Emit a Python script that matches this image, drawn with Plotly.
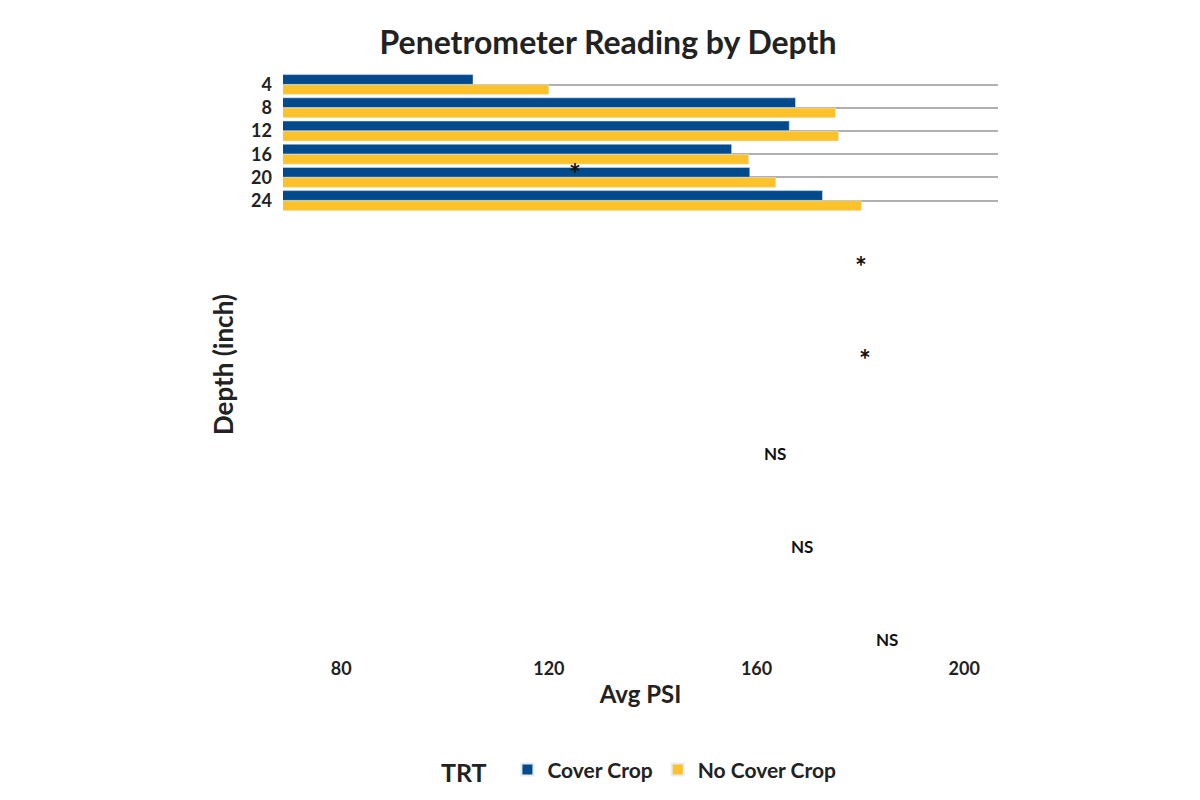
import plotly.graph_objects as go

depths = ['4', '8', '12', '16', '20', '24']
cover_crop = [105.4, 167.5, 166.3, 155.2, 158.7, 172.7]
no_cover_crop = [120.0, 175.2, 175.8, 158.5, 163.7, 180.2]
signif = ['*', '*', '*', 'NS', 'NS', 'NS']

blue = '#034A8C'
yellow = '#FDC12A'
font = 'Lato'

fig = go.Figure()
fig.add_bar(y=depths, x=cover_crop, orientation='h', name='<b>Cover Crop</b>',
            marker_color=blue, base=0)
fig.add_bar(y=depths, x=no_cover_crop, orientation='h', name='<b>No Cover Crop</b>',
            marker_color=yellow, base=0)

for d, v, s in zip(depths, no_cover_crop, signif):
    if s == '*':
        fig.add_annotation(x=v + 5, y=d, text='<b>*</b>', showarrow=False,
                           font=dict(size=28, color='#111'), yshift=4)
    else:
        fig.add_annotation(x=v + 5, y=d, text='<b>NS</b>', showarrow=False,
                           font=dict(size=17, color='#111'), yshift=2)

fig.update_layout(
    width=1200, height=800,
    paper_bgcolor='white', plot_bgcolor='white',
    font=dict(family=font, color='#222', size=18),
    title=dict(text='<b>Penetrometer Reading by Depth</b>', x=0.5, y=0.97,
               xanchor='center', font=dict(size=32, color='#222')),
    barmode='group', bargap=0.12, bargroupgap=0.04,
    margin=dict(l=275, r=210, t=65, b=152),
    legend=dict(orientation='h', x=0.5, xanchor='center', y=-0.16, yanchor='top',
                title=dict(text='<b>TRT</b>  '), font=dict(size=21),
                traceorder='normal', itemsizing='constant'),
    xaxis=dict(title=dict(text='<b>Avg PSI</b>', font=dict(size=24), standoff=8),
               range=[68.8, 206.5], tickvals=[80, 120, 160, 200],
               ticktext=['<b>80</b>', '<b>120</b>', '<b>160</b>', '<b>200</b>'],
               showgrid=False, zeroline=False, showline=False, ticks=''),
    yaxis=dict(type='category',
               title=dict(text='<b>Depth (inch)</b>', font=dict(size=26), standoff=10),
               autorange='reversed', showgrid=True, gridcolor='#b0b0b0', gridwidth=1.5,
               tickvals=depths, ticktext=['<b>%s</b>' % d for d in depths],
               ticks='', ticklabelstandoff=10),
)

fig.write_html('out.html')
